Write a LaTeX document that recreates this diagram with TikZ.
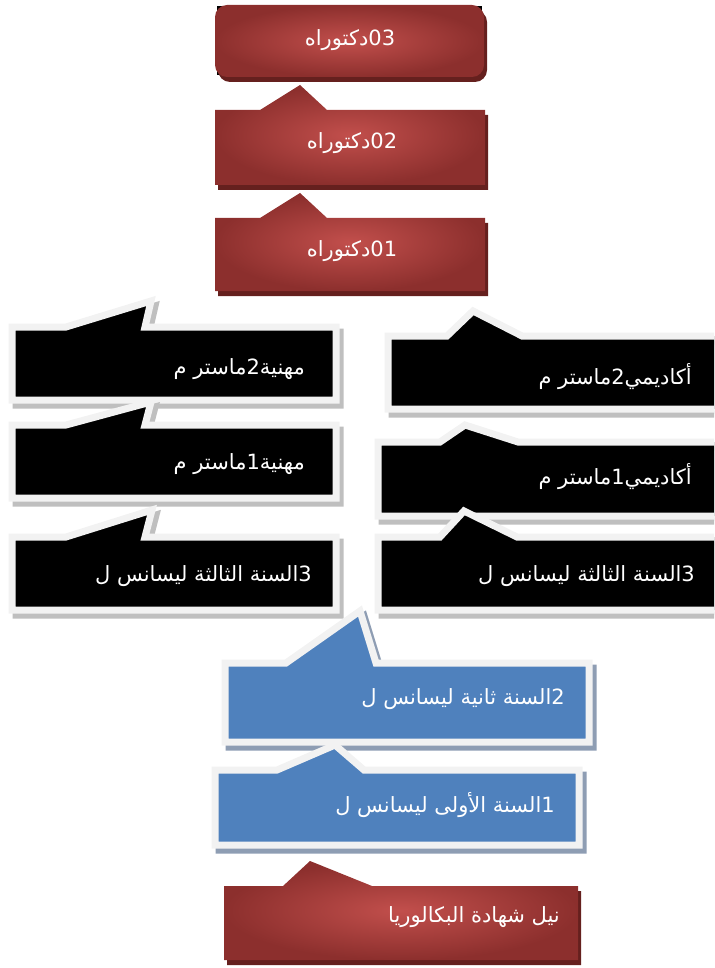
\documentclass[tikz,border=0pt]{standalone}
\usepackage{fontspec}
\newfontfamily\arabicfont[Script=Arabic]{DejaVu Sans}
\TeXXeTstate=1
\definecolor{redin}{HTML}{C24F4C}
\definecolor{redout}{HTML}{8C2F2D}
\definecolor{redshadow}{HTML}{65201E}
\definecolor{frame}{HTML}{F2F2F2}
\definecolor{shgray}{HTML}{BFBFBF}
\definecolor{blue1}{HTML}{4F81BD}
\definecolor{shblue}{HTML}{8E9DB3}
\newcommand\tabshape[8]{(#1,#2) -- (#5,#2) -- (#6,#7) -- (#8,#2) -- (#3,#2) -- (#3,#4) -- (#1,#4) -- cycle}
\newcommand\frbox[3]{%
  \path[fill=#2, draw=#2, line width=7pt, line join=miter, shift={(4,5)}] #3;
  \path[fill=#1, draw=frame, line width=7pt, line join=miter] #3;}
\newcommand\redbox[1]{%
  \path[fill=redshadow, shift={(3,5)}] #1;
  \shade[inner color=redin, outer color=redout] #1;}
\begin{document}
\begin{tikzpicture}[x=1pt,y=-1pt,
  lbl/.style={text=white, font=\arabicfont\fontsize{21}{24}\selectfont, inner sep=0pt}]
\useasboundingbox (0,0) rectangle (714,968);
\clip (0,0) rectangle (714,968);
% top red boxes
\fill[black] (217,6) rectangle (482,75);
\fill[redshadow, rounded corners=12pt] (218,10) rectangle (487,82);
\shade[inner color=redin, outer color=redout, rounded corners=12pt] (215,5) rectangle (484,77);
\redbox{\tabshape{215}{110}{485}{185}{260}{300}{85}{327}}
\redbox{\tabshape{215}{218}{485}{291}{260}{300}{193}{327}}
% left column
\frbox{black}{shgray}{\tabshape{12}{327}{336}{400}{66}{151}{301}{145}}
\frbox{black}{shgray}{\tabshape{12}{425}{336}{498}{66}{151}{402}{145}}
\frbox{black}{shgray}{\tabshape{12}{537}{336}{610}{66}{152}{510}{145}}
% right column
\frbox{black}{shgray}{\tabshape{388}{336}{730}{409}{447}{473}{311}{522}}
\frbox{black}{shgray}{\tabshape{378}{442}{730}{516}{440}{465}{425}{518}}
\frbox{black}{shgray}{\tabshape{378}{537}{730}{610}{440}{464}{511}{517}}
% blue boxes
\frbox{blue1}{shblue}{\tabshape{225}{663}{589}{742}{286}{360}{611}{376}}
\frbox{blue1}{shblue}{\tabshape{215}{770}{579}{845}{277}{335}{745}{364}}
% bottom red box
\redbox{\tabshape{224}{886}{578}{960}{283}{310}{861}{372}}
% texts
\node[lbl, anchor=base] (t03) at (350,46) {\beginR\beginL 03\endL دكتوراه\endR};
\node[lbl, anchor=base] (t02) at (352,149) {\beginR\beginL 02\endL دكتوراه\endR};
\node[lbl, anchor=base] (t01) at (352,256) {\beginR\beginL 01\endL دكتوراه\endR};
\node[lbl, anchor=base east] (tL2) at (305,374) {\beginR مهنية\beginL 2\endL ماستر م\endR};
\node[lbl, anchor=base east] (tL1) at (305,469) {\beginR مهنية\beginL 1\endL ماستر م\endR};
\node[lbl, anchor=base east] (tL0) at (312,581) {\beginR\beginL 3\endL السنة الثالثة ليسانس ل\endR};
\node[lbl, anchor=base east] (tR2) at (692,384) {\beginR أكاديمي\beginL 2\endL ماستر م\endR};
\node[lbl, anchor=base east] (tR1) at (692,484) {\beginR أكاديمي\beginL 1\endL ماستر م\endR};
\node[lbl, anchor=base east] (tR0) at (695,581) {\beginR\beginL 3\endL السنة الثالثة ليسانس ل\endR};
\node[lbl, anchor=base east] (tB2) at (565,704) {\beginR\beginL 2\endL السنة ثانية ليسانس ل\endR};
\node[lbl, anchor=base east] (tB1) at (555,812) {\beginR\beginL 1\endL السنة الأولى ليسانس ل\endR};
\node[lbl, anchor=base east] (tBac) at (560,922) {\beginR نيل شهادة البكالوريا\endR};
\end{tikzpicture}
\end{document}
